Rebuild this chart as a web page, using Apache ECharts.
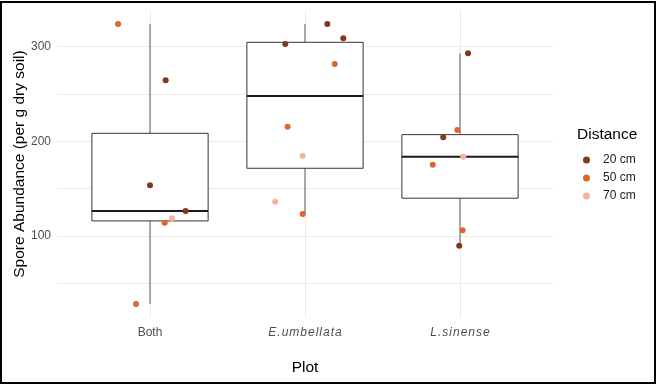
<!DOCTYPE html>
<html>
<head>
<meta charset="utf-8">
<script src="https://cdn.jsdelivr.net/npm/echarts@6/dist/echarts.min.js"></script>
<style>
html,body{margin:0;padding:0;background:#fff;}
#c{width:658px;height:385px;}
</style>
</head>
<body>
<div id="c"></div>
<script>
// Categories (positions 1,2,3 on the discrete axis)
var categories = ['Both', 'E.umbellata', 'L.sinense'];
// Box stats: [position, lowerWhisker, Q1, median, Q3, upperWhisker]
var boxStats = [
  [1, 28.3, 116.0, 126.5, 208.5, 324.0],
  [2, 123.3, 171.6, 248.0, 304.6, 324.0],
  [3, 89.9, 140.0, 183.8, 207.1, 293.0]
];
// Jittered points: [x (jittered position), value]
var pts20 = [
  [1.101, 264.5], [1.000, 153.6], [1.230, 126.5],
  [2.144, 324.0], [2.247, 308.9], [1.873, 302.9],
  [3.052, 293.0], [2.892, 204.3], [2.995, 89.9]
];
var pts50 = [
  [0.794, 324.0], [1.095, 114.1], [0.910, 28.3],
  [2.192, 281.7], [1.888, 215.5], [1.985, 123.3],
  [2.983, 212.0], [2.824, 175.4], [3.017, 106.1]
];
var pts70 = [
  [1.142, 118.8],
  [1.985, 184.9], [1.808, 136.3],
  [3.021, 183.8]
];
var yLabelValues = [100, 200, 300];
var yGridValues = [50, 100, 150, 200, 250, 300];
var xTickValues = [1, 2, 3];

var chart = echarts.init(document.getElementById('c'), null, {renderer: 'canvas'});
var FONT = 'Liberation Sans, Arial, sans-serif';
var halfW = 0.375;

function renderBox(params, api) {
  var x = api.value(0);
  var lo = api.coord([x, api.value(1)]);
  var q1 = api.coord([x, api.value(2)]);
  var md = api.coord([x, api.value(3)]);
  var q3 = api.coord([x, api.value(4)]);
  var hi = api.coord([x, api.value(5)]);
  var left = api.coord([x - halfW, api.value(3)])[0];
  var right = api.coord([x + halfW, api.value(3)])[0];
  return {
    type: 'group',
    children: [
      {type: 'line', shape: {x1: lo[0], y1: lo[1], x2: q1[0], y2: q1[1]}, style: {stroke: '#5a5a5a', lineWidth: 1}},
      {type: 'line', shape: {x1: q3[0], y1: q3[1], x2: hi[0], y2: hi[1]}, style: {stroke: '#5a5a5a', lineWidth: 1}},
      {type: 'rect', shape: {x: left, y: q3[1], width: right - left, height: q1[1] - q3[1]}, style: {fill: '#ffffff', stroke: '#333333', lineWidth: 1}},
      {type: 'line', shape: {x1: left, y1: md[1], x2: right, y2: md[1]}, style: {stroke: '#1a1a1a', lineWidth: 2}}
    ]
  };
}

var option = {
  backgroundColor: '#ffffff',
  animation: false,
  textStyle: {fontFamily: FONT},
  grid: {left: 57, right: 105, top: 10, bottom: 67, containLabel: false, outerBoundsMode: 'none'},
  title: {
    text: 'Distance', left: 572, top: 122,
    textStyle: {fontFamily: FONT, fontSize: 15.5, fontWeight: 'normal', color: '#000'}
  },
  legend: {
    orient: 'vertical', left: 578, top: 149,
    itemWidth: 7, itemHeight: 7, itemGap: 6,
    icon: 'circle',
    textStyle: {fontFamily: FONT, fontSize: 12, color: '#1a1a1a', padding: [0, 0, 0, 8]},
    data: ['20 cm', '50 cm', '70 cm']
  },
  xAxis: {
    type: 'value', min: 0.4, max: 3.6,
    name: 'Plot', nameLocation: 'middle', nameGap: 42,
    nameTextStyle: {fontFamily: FONT, fontSize: 15.5, color: '#000'},
    axisLine: {show: false},
    axisTick: {show: false, customValues: xTickValues},
    axisLabel: {
      customValues: xTickValues, margin: 9,
      formatter: function (v) {
        var n = categories[Math.round(v) - 1];
        return n === 'Both' ? '{n|' + n + '}' : '{i|' + n.split('').join('\u200A') + '}';
      },
      rich: {
        n: {fontFamily: FONT, fontSize: 12, color: '#4d4d4d'},
        i: {fontFamily: FONT, fontSize: 12, fontStyle: 'italic', color: '#4d4d4d'}
      }
    },
    splitLine: {show: true, lineStyle: {color: '#ebebeb', width: 1}}
  },
  yAxis: {
    type: 'value', min: 13.5, max: 338.7,
    name: 'Spore Abundance (per g dry soil)', nameLocation: 'middle', nameGap: 29,
    nameMoveOverlap: false,
    nameTextStyle: {fontFamily: FONT, fontSize: 15.5, color: '#000'},
    axisLine: {show: false},
    axisTick: {show: false, customValues: yGridValues},
    axisLabel: {customValues: yLabelValues, margin: 6, fontFamily: FONT, fontSize: 12, color: '#4d4d4d'},
    splitLine: {show: true, lineStyle: {color: '#ebebeb', width: 1}}
  },
  graphic: [{
    type: 'rect', shape: {x: 1, y: 2, width: 654, height: 381},
    style: {fill: 'none', stroke: '#000', lineWidth: 2}, silent: true, z: 100
  }],
  series: [
    {type: 'custom', name: 'box', renderItem: renderBox, data: boxStats, encode: {x: 0, y: [1, 2, 3, 4, 5]}, z: 2, silent: true},
    {type: 'scatter', name: '20 cm', data: pts20, symbolSize: 6, itemStyle: {color: '#7f3a18', opacity: 1}, z: 3},
    {type: 'scatter', name: '50 cm', data: pts50, symbolSize: 6, itemStyle: {color: '#e0652c', opacity: 1}, z: 3},
    {type: 'scatter', name: '70 cm', data: pts70, symbolSize: 6, itemStyle: {color: '#f4b49b', opacity: 1}, z: 3}
  ]
};
chart.setOption(option);
</script>
</body>
</html>
